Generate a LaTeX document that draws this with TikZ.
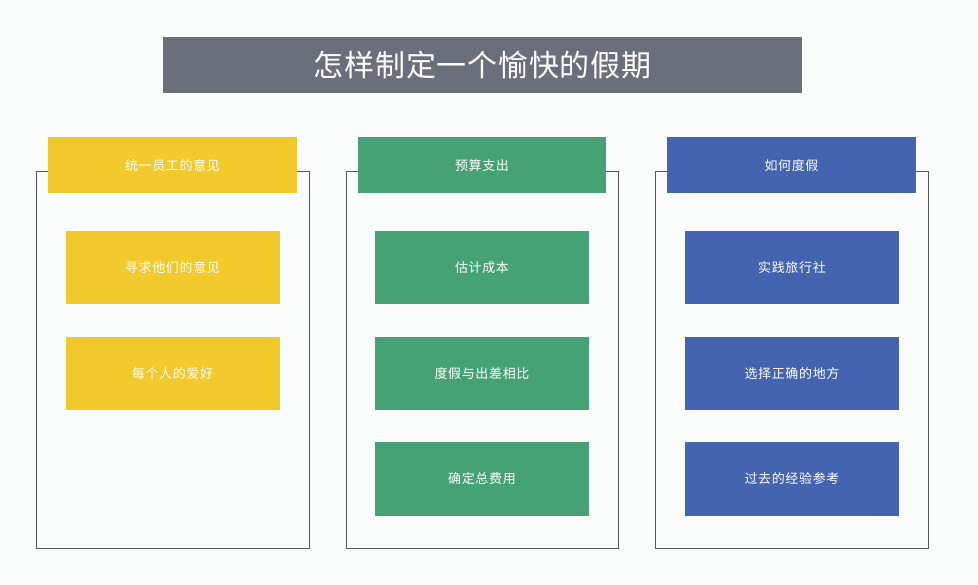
\documentclass[tikz,border=0pt]{standalone}
\usepackage{fontspec}
\setmainfont{Noto Sans CJK SC}
\newfontfamily\itemfont[LetterSpace=5]{Noto Sans CJK SC}
\newfontfamily\titlefont[LetterSpace=2.5]{Noto Sans CJK SC}
\definecolor{bg}{HTML}{FAFBFB}
\definecolor{ttl}{HTML}{6B6E7B}
\definecolor{yel}{HTML}{F2C92C}
\definecolor{grn}{HTML}{46A275}
\definecolor{blu}{HTML}{4464AF}
\definecolor{frame}{HTML}{555555}
\tikzset{
  box/.style={draw=none, inner sep=0pt, text=white, font=\itemfont\fontsize{13}{15}\selectfont},
  headbox/.style={box, minimum height=56},
  itembox/.style={box, minimum width=214, minimum height=73},
  outer/.style={draw=frame, line width=0.8pt, fill=bg},
}
\begin{document}
\begin{tikzpicture}[x=1pt,y=-1pt]
\fill[bg] (0,0) rectangle (978,585);
\useasboundingbox (0,0) rectangle (978,585);
% title
\node[box, fill=ttl, minimum width=639, minimum height=56, font=\titlefont\fontsize{30}{34}\selectfont] (title) at (482.5,65) {怎样制定一个愉快的假期};
% column frames
\draw[outer] (36,171) rectangle (309,548);
\draw[outer] (346,171) rectangle (618,548);
\draw[outer] (655,171) rectangle (928,548);
% headers
\node[headbox, fill=yel, minimum width=249] (h1) at (172.5,165.5) {统一员工的意见};
\node[headbox, fill=grn, minimum width=248] (h2) at (482,165.5) {预算支出};
\node[headbox, fill=blu, minimum width=249] (h3) at (791.5,165.5) {如何度假};
% column 1 items
\node[itembox, fill=yel] (a1) at (172.5,268) {寻求他们的意见};
\node[itembox, fill=yel] (a2) at (172.5,373.5) {每个人的爱好};
% column 2 items
\node[itembox, fill=grn] (b1) at (482,268) {估计成本};
\node[itembox, fill=grn] (b2) at (482,373.5) {度假与出差相比};
\node[itembox, fill=grn] (b3) at (482,479) {确定总费用};
% column 3 items
\node[itembox, fill=blu] (c1) at (792,268) {实践旅行社};
\node[itembox, fill=blu] (c2) at (792,373.5) {选择正确的地方};
\node[itembox, fill=blu] (c3) at (792,479) {过去的经验参考};
\end{tikzpicture}
\end{document}
